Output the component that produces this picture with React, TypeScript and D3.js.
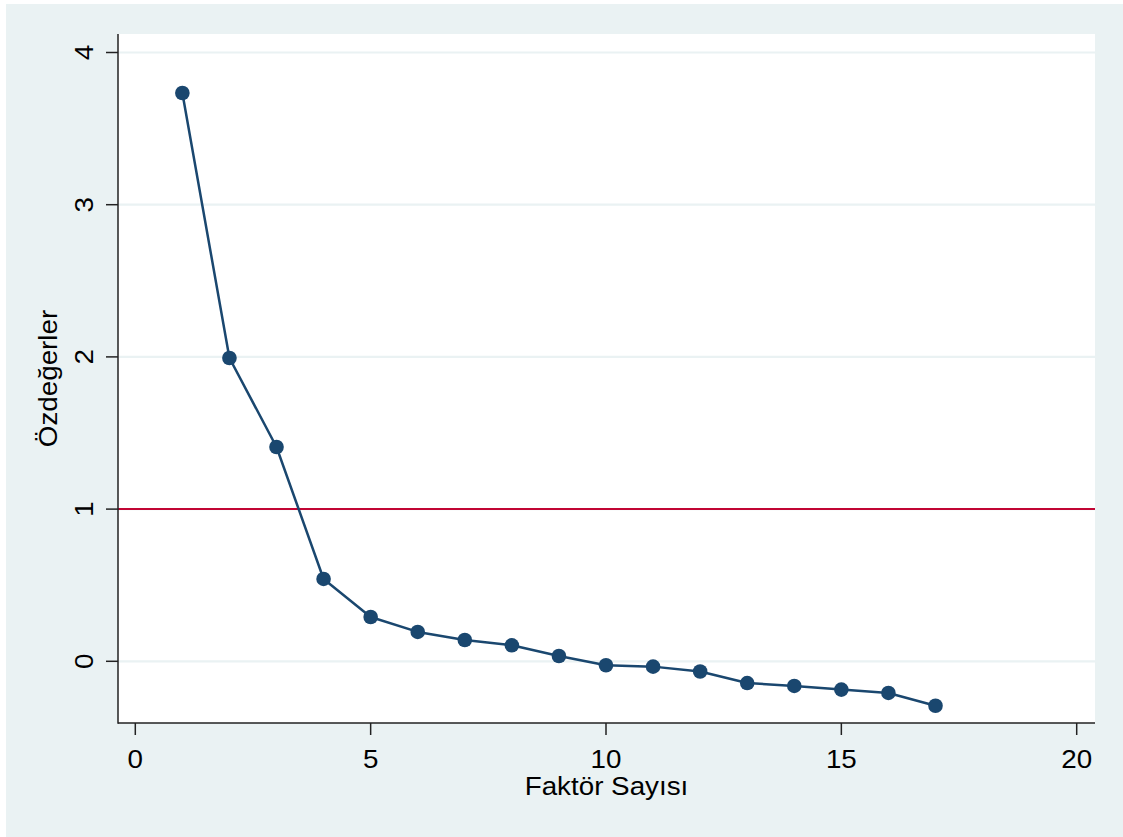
import React from "react";
import * as d3 from "d3";

// Scree plot: eigenvalues by factor number
const factors = [1, 2, 3, 4, 5, 6, 7, 8, 9, 10, 11, 12, 13, 14, 15, 16, 17];
const eigenvalues = [
  3.734, 1.993, 1.408, 0.541, 0.291, 0.193, 0.14, 0.105, 0.035, -0.026,
  -0.035, -0.067, -0.143, -0.162, -0.186, -0.208, -0.292,
];
const xTicks = [0, 5, 10, 15, 20];
const yTicks = [0, 1, 2, 3, 4];
const referenceLine = 1;
const xTitle = "Faktör Sayısı";
const yTitle = "Özdeğerler";

const W = 1123;
const H = 837;
const plot = { left: 118, right: 1095, top: 34, bottom: 723 };
const FONT = "'Liberation Sans', Arial, Helvetica, sans-serif";
const FS = 25.5;
const STRETCH = 1.09;
const NAVY = "#1A476F";
const BG = "#EAF2F3";

// Text with a slight horizontal stretch along its reading direction
function Label({ x, y, rotate = 0, children }: { x: number; y: number; rotate?: number; children: React.ReactNode }) {
  return (
    <text
      transform={`translate(${x},${y}) rotate(${rotate}) scale(${STRETCH},1)`}
      textAnchor="middle"
      fontFamily={FONT}
      fontSize={FS}
      fill="#000"
    >
      {children}
    </text>
  );
}

export default function App() {
  const x = d3.scaleLinear().domain([0, 20]).range([135.3, 1076.7]);
  const y = d3.scaleLinear().domain([0, 4]).range([661.3, 52.5]);

  const pts = factors.map((f, i) => [x(f), y(eigenvalues[i])] as [number, number]);
  const line = d3.line()(pts) || "";

  return (
    <svg
      width={W}
      height={H}
      style={{ position: "absolute", left: 0, top: 0, background: "#fff" }}
    >
      <rect x={6} y={4} width={W - 6} height={H - 4} fill={BG} />
      <rect
        x={plot.left}
        y={plot.top}
        width={plot.right - plot.left}
        height={plot.bottom - plot.top}
        fill="#fff"
      />
      {/* horizontal grid */}
      {yTicks.map((t) => (
        <line
          key={"g" + t}
          x1={plot.left}
          x2={plot.right}
          y1={y(t)}
          y2={y(t)}
          stroke={BG}
          strokeWidth={2.2}
        />
      ))}
      {/* Kaiser criterion line */}
      <line
        x1={plot.left}
        x2={plot.right}
        y1={y(referenceLine)}
        y2={y(referenceLine)}
        stroke="#C10534"
        strokeWidth={2}
      />
      {/* axes */}
      <line x1={plot.left} x2={plot.left} y1={plot.top} y2={plot.bottom + 0.75} stroke="#222" strokeWidth={1.5} />
      <line x1={plot.left} x2={plot.right} y1={plot.bottom} y2={plot.bottom} stroke="#222" strokeWidth={1.5} />
      {yTicks.map((t) => (
        <g key={"yt" + t}>
          <line x1={plot.left - 12} x2={plot.left} y1={y(t)} y2={y(t)} stroke="#222" strokeWidth={1.5} />
          <Label x={93} y={y(t)} rotate={-90}>{t}</Label>
        </g>
      ))}
      {xTicks.map((t) => (
        <g key={"xt" + t}>
          <line x1={x(t)} x2={x(t)} y1={plot.bottom} y2={plot.bottom + 12} stroke="#222" strokeWidth={1.5} />
          <Label x={x(t)} y={767.5}>{t}</Label>
        </g>
      ))}
      <Label x={(plot.left + plot.right) / 2} y={795}>{xTitle}</Label>
      <Label x={57} y={(plot.top + plot.bottom) / 2} rotate={-90}>{yTitle}</Label>
      {/* series */}
      <path d={line} fill="none" stroke={NAVY} strokeWidth={2.5} strokeLinejoin="round" />
      {pts.map(([cx, cy], i) => (
        <circle key={i} cx={cx} cy={cy} r={7.3} fill={NAVY} />
      ))}
    </svg>
  );
}
